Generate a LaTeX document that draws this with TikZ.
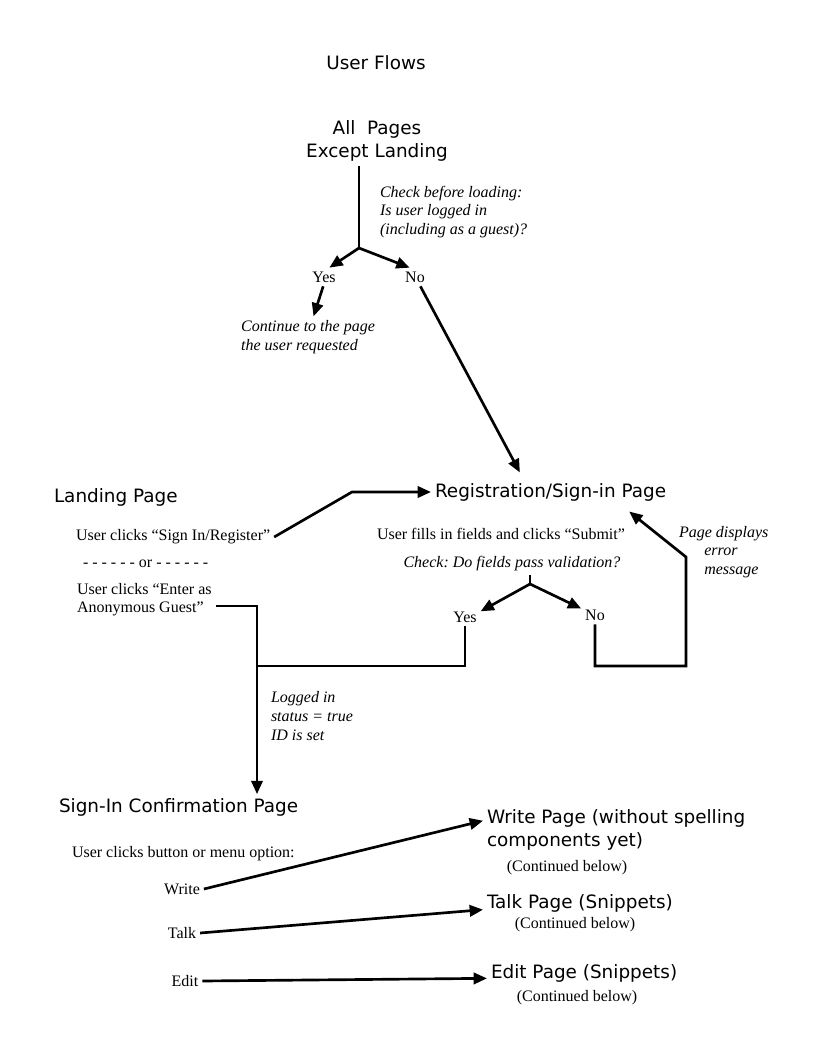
\documentclass[tikz,border=0pt]{standalone}
\usepackage{fontspec}
\setmainfont{Liberation Serif}
\newfontfamily\headfont{DejaVu Sans}
\usetikzlibrary{positioning,arrows.meta}
\frenchspacing

\begin{document}
\begin{tikzpicture}[x=0.75pt,y=-0.75pt,line width=2pt,
 every node/.style={inner sep=0pt,outer sep=3pt},
 head/.style={font=\headfont\fontsize{13.8}{17.5}\selectfont},
 txt/.style={font=\fontsize{12}{13.5}\selectfont},
 note/.style={font=\itshape\fontsize{12}{14}\selectfont},
 arr/.style={-{Triangle[length=10pt,width=8.5pt]}}]
\useasboundingbox (0,0) rectangle (816,1056);
\node[head] (title) at (376,63) {User Flows};
\node[head,align=center] (allpages) at (377,141) {All\ \ Pages\\Except Landing};
\node[note,align=left,anchor=west] (check1) at (376,212) {Check before loading:\\Is user logged in\\(including as a guest)?};
\node[txt] (yes1) at (324,277) {Yes};
\node[txt] (no1) at (415,277) {No};
\node[note,align=left] (cont) at (308,337) {Continue to the page\\the user requested};
\node[head,anchor=west] (reg) at (431,492) {Registration/Sign-in Page};
\node[head,anchor=west] (landing) at (50,497) {Landing Page};
\node[txt,anchor=west] (signin) at (72,537) {User clicks “Sign In/Register”};
\node[txt,anchor=west] (ornode) at (79,564) {- - - - - - or - - - - - -};
\node[txt,align=left,anchor=west] (guest) at (73,600) {User clicks “Enter as\\Anonymous Guest”};
\node[txt,anchor=west] (fill) at (373,534) {User fills in fields and clicks “Submit”};
\node[note] (check2) at (512,564) {Check: Do fields pass validation?};
\node[txt] (yes2) at (465,617) {Yes};
\node[txt] (no2) at (595,615) {No};
\node[note,align=left,anchor=west] (errmsg) at (675,552) {Page displays\\\hspace*{19pt}error\\\hspace*{19pt}message};
\node[note,align=left,anchor=west] (logged) at (267,716) {Logged in\\status = true\\ID is set};
\node[head,anchor=west] (conf) at (55,807) {Sign-In Confirmation Page};
\node[txt,anchor=west] (clicks) at (68,854) {User clicks button or menu option:};
\node[txt] (write) at (182,889) {Write};
\node[txt] (talk) at (182,933) {Talk};
\node[txt] (edit) at (185,981) {Edit};
\node[head,align=left,anchor=west] (wpage) at (483,830) {Write Page (without spelling\\components yet)};
\node[txt] (wcont) at (567,868) {(Continued below)};
\node[head,anchor=west] (tpage) at (483,903) {Talk Page (Snippets)};
\node[txt] (tcont) at (575,925) {(Continued below)};
\node[head,anchor=west] (epage) at (487,973) {Edit Page (Snippets)};
\node[txt] (econt) at (577,998) {(Continued below)};
% top check
\coordinate (fork1) at (359,248);
\draw (allpages.south -| fork1) -- (fork1);
\draw[arr] (fork1) -- (yes1.60);
\draw[arr] (fork1) -- (no1.120);
\draw[arr] (yes1.265) -- (cont.75);
\draw[arr] (no1.300) -- ([xshift=-23pt,yshift=5pt]reg.north);
% landing page
\coordinate (bend1) at (352,492);
\draw[arr] (signin.east) -- (bend1) -- (reg.west);
\coordinate (g1) at (257,606);
\coordinate (j1) at (257,666);
\draw[arr] (guest.east |- g1) -- (g1) -- (conf.north -| g1);
% validation
\coordinate (fork2) at (530,584);
\draw (check2.south -| fork2) -- (fork2);
\draw[arr] (fork2) -- (yes2.20);
\draw[arr] (fork2) -- (no2.155);
\draw (yes2.south) |- (j1);
\coordinate (r1) at (686,666);
\coordinate (r2) at (686,557);
\draw[arr] (no2.south) |- (r1) -- (r2) -- ([xshift=59pt,yshift=-5pt]reg.south);
% menu options
\draw[arr] (write.east) -- (wpage.176);
\draw[arr] (talk.east) -- ([yshift=-5pt]tpage.west);
\draw[arr] (edit.east) -- ([yshift=-4pt]epage.west);
\end{tikzpicture}
\end{document}
